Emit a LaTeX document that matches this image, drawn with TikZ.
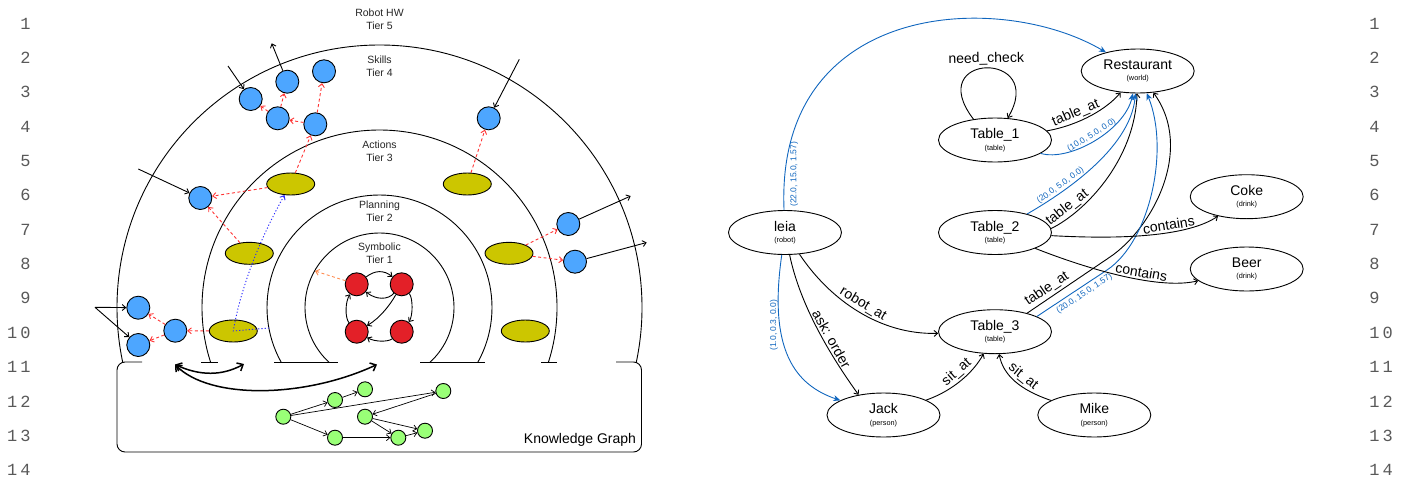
\documentclass[tikz,border=0pt]{standalone}
\usepackage{fontspec}
\setmainfont{Liberation Sans}
\newfontfamily\linefont[LetterSpace=18]{Liberation Mono}
\usetikzlibrary{shapes.geometric, arrows.meta}

\definecolor{skillblue}{RGB}{77,166,255}
\definecolor{actionolive}{RGB}{204,198,0}
\definecolor{symred}{RGB}{227,32,40}
\definecolor{kbgreen}{RGB}{153,255,119}
\definecolor{flowred}{RGB}{255,51,51}
\definecolor{flowpeach}{RGB}{255,140,80}
\definecolor{planblue}{RGB}{40,40,255}
\definecolor{poseblue}{RGB}{16,102,190}

\newcommand{\ent}[2]{#1\\[-4.4pt]{\fontsize{7.3}{8}\selectfont(#2)}}

\tikzstyle{skill} = [circle, draw=black, fill=skillblue, minimum size=23pt, inner sep=0pt]
\tikzstyle{action} = [ellipse, draw=black, fill=actionolive, minimum width=48pt,
    minimum height=22pt, inner sep=0pt]
\tikzstyle{symnode} = [circle, draw=black, fill=symred, minimum size=23pt, inner sep=0pt]
\tikzstyle{fact} = [circle, draw=black, fill=kbgreen, minimum size=15pt, inner sep=0pt]
\tikzstyle{entity} = [ellipse, draw=black, minimum width=113pt, minimum height=44pt,
    inner sep=0pt, align=center, font=\fontsize{14}{16}\selectfont]
\tikzstyle{tier} = [align=center, font=\fontsize{10.5}{13}\selectfont, text=black!85]
\tikzstyle{lineno} = [inner sep=0pt, font=\linefont\fontsize{17}{17}\selectfont, text=black!65]
\tikzstyle{arrow} = [->, >={Straight Barb[length=3.5pt,width=6pt]}]
\tikzstyle{flow} = [arrow, draw=flowred, dash pattern=on 3pt off 2.5pt]
\tikzstyle{planpath} = [arrow, draw=planblue, dash pattern=on 1.2pt off 2pt]
\tikzstyle{kglink} = [line width=1.5pt, <->, >={Straight Barb[length=5pt,width=9pt]}]
\tikzstyle{rel} = [arrow]
\tikzstyle{pose} = [draw=poseblue, -{Stealth[length=7pt,width=6pt]}]
\tikzstyle{rellabel} = [font=\fontsize{14}{16}\selectfont, inner sep=2pt, sloped]
\tikzstyle{poselabel} = [font=\fontsize{8.5}{10}\selectfont, text=poseblue, inner sep=1.5pt]

\begin{document}
\begin{tikzpicture}[x=1pt, y=-1pt, line width=0.9pt]
    \useasboundingbox (0,0) rectangle (1408,485);

    % Line numbers
    \foreach \i in {1,...,14} {
        \node[lineno, anchor=east] (lnl\i) at (31, {23.5+(\i-1)*34.35}) {\i};
        \node[lineno, anchor=west] (lnr\i) at (1369, {23.5+(\i-1)*34.35}) {\i};
    }

    % Tiers
    \begin{scope}
        \clip (0,0) rectangle (700,362);
        \foreach \r in {74.5,112.5,177.5,262.5}
            \draw (379.5,307.5) circle[radius=\r];
    \end{scope}
    \node[tier] (hw) at (379.5,19.5) {Robot HW\\Tier 5};
    \node[tier] (skills) at (379.5,66.5) {Skills\\Tier 4};
    \node[tier] (actions) at (379.5,151.5) {Actions\\Tier 3};
    \node[tier] (planning) at (379.5,211.5) {Planning\\Tier 2};
    \node[tier] (symbolic) at (379.5,253.5) {Symbolic\\Tier 1};

    % Knowledge graph box
    \draw[rounded corners=8pt] (142,362) -- (117,362) -- (117,452) -- (641.5,452)
        -- (641.5,362) -- (616,362);
    \foreach \a/\b in {201/218, 274/338, 420/485, 541/557}
        \draw (\a,362) -- (\b,362);
    \node[font=\fontsize{14}{16}\selectfont] (kglabel) at (580,440) {Knowledge Graph};

    % Skills
    \node[skill] (sk1) at (250.7,99) {};
    \node[skill] (sk2) at (287.3,81.7) {};
    \node[skill] (sk3) at (324,71.3) {};
    \node[skill] (sk4) at (277.7,118.3) {};
    \node[skill] (sk5) at (315.3,124.3) {};
    \node[skill] (sk6) at (200.3,198) {};
    \node[skill] (sk7) at (488.7,118.3) {};
    \node[skill] (sk8) at (568.3,224) {};
    \node[skill] (sk9) at (575,261.7) {};
    \node[skill] (sk10) at (138.3,307.7) {};
    \node[skill] (sk11) at (138.3,345) {};
    \node[skill] (sk12) at (175.3,330.7) {};

    % Actions
    \node[action] (ac1) at (290.7,184) {};
    \node[action] (ac2) at (467.3,184) {};
    \node[action] (ac3) at (249.3,253.3) {};
    \node[action] (ac4) at (233.3,331) {};
    \node[action] (ac5) at (509,253.3) {};
    \node[action] (ac6) at (525.3,331) {};

    % Symbols
    \node[symnode] (sy1) at (356.7,284.3) {};
    \node[symnode] (sy2) at (401.7,284.3) {};
    \node[symnode] (sy3) at (356.7,331.7) {};
    \node[symnode] (sy4) at (401.7,331.7) {};

    % Facts
    \node[fact] (kg1) at (283.3,416.7) {};
    \node[fact] (kg2) at (335,400) {};
    \node[fact] (kg3) at (365,389.3) {};
    \node[fact] (kg4) at (443.3,391) {};
    \node[fact] (kg5) at (365,416.7) {};
    \node[fact] (kg6) at (335,437.7) {};
    \node[fact] (kg7) at (398.3,437.7) {};
    \node[fact] (kg8) at (425,430.7) {};

    % Free ends
    \coordinate (in1) at (228,66);
    \coordinate (out1) at (271.7,43.3);
    \coordinate (in2) at (138.3,169);
    \coordinate (in3) at (519.3,59.3);
    \coordinate (out2) at (630.7,196);
    \coordinate (out3) at (646.7,242.5);
    \coordinate (in4) at (95,307.3);
    \coordinate (symhit) at (315,271);
    \coordinate (planhit) at (269,328);
    \coordinate (kgl) at (175,364.5);
    \coordinate (kgm) at (244,364);
    \coordinate (kgr) at (377,364.5);

    % Arrows
    \foreach \a/\b in {sk4/sk1, sk4/sk2, sk5/sk4, sk5/sk3, ac1/sk5, ac1/sk6, ac3/sk6,
        ac2/sk7, ac5/sk8, ac5/sk9, ac4/sk12, sk12/sk10, sk12/sk11}
        \draw[flow] (\a) -- (\b);
    \draw[flow, draw=flowpeach] (sy1) -- (symhit);
    \draw[planpath] (planhit) -- (ac4.center) .. controls (241,285) and (262,235) .. (ac1);

    \draw[arrow] (in1) -- (sk1);
    \draw[arrow] (sk2) -- (out1);
    \draw[arrow] (in2) -- (sk6);
    \draw[arrow] (in3) -- (sk7);
    \draw[arrow] (sk8) -- (out2);
    \draw[arrow] (sk9) -- (out3);
    \draw[arrow] (in4) -- (sk10);
    \draw[arrow] (in4) -- (sk11);

    \draw[arrow] (sy1) .. controls (375,270) and (384,270) .. (sy2);
    \draw[arrow] (sy2) .. controls (388,300) and (376,300) .. (sy1);
    \draw[arrow] (sy3) .. controls (345,318) and (345,302) .. (sy1);
    \draw[arrow] (sy2) .. controls (413,298) and (413,316) .. (sy4);
    \draw[arrow] (sy2) .. controls (390,305) and (380,318) .. (sy3);
    \draw[arrow] (sy4) .. controls (388,342) and (375,342) .. (sy3);

    \foreach \a/\b in {kg1/kg2, kg2/kg3, kg1/kg4, kg4/kg5, kg1/kg6, kg6/kg7, kg5/kg7,
        kg5/kg8, kg7/kg8}
        \draw[arrow, line width=0.7pt] (\a) -- (\b);

    \draw[kglink] (kgl) .. controls (200,376) and (222,376) .. (kgm);
    \draw[kglink] (kgl) .. controls (210,400) and (305,398) .. (kgr);

    % Scene graph
    \node[entity] (restaurant) at (1137.7,71) {\ent{Restaurant}{world}};
    \node[entity] (table1) at (995,140) {\ent{Table\_1}{table}};
    \node[entity] (leia) at (785,232.5) {\ent{leia}{robot}};
    \node[entity] (table2) at (995,232.5) {\ent{Table\_2}{table}};
    \node[entity] (coke) at (1246.7,196.7) {\ent{Coke}{drink}};
    \node[entity] (beer) at (1246.7,269) {\ent{Beer}{drink}};
    \node[entity] (table3) at (995,331.7) {\ent{Table\_3}{table}};
    \node[entity] (jack) at (883.5,415) {\ent{Jack}{person}};
    \node[entity] (mike) at (1094.3,415) {\ent{Mike}{person}};

    \draw[rel] (table1.136) .. controls (922,52) and (1048,50) ..
        node[rellabel, above, pos=0.5] (lneed) {need\_check} (table1.60);
    \draw[rel] (table1) .. controls (1080,125) and (1108,108) ..
        node[rellabel, above, pos=0.35] (lt1) {table\_at} (restaurant);
    \draw[pose] (table1) .. controls (1070,162) and (1125,130) ..
        node[poselabel, sloped, above, pos=0.5] (lp1) {(10.0, 5.0, 0.0)} (restaurant);
    \draw[rel] (table2.4) .. controls (1085,212) and (1135,160) ..
        node[rellabel, above, pos=0.2] (lt2) {table\_at} (restaurant);
    \draw[pose] (table2) .. controls (1060,195) and (1130,150) ..
        node[poselabel, sloped, above, pos=0.3] (lp2) {(20.0, 5.0, 0.0)} (restaurant);
    \draw[rel] (table3.30) -- node[rellabel, above, pos=0.3] (lt3) {table\_at} (1110,257)
        .. controls (1151.7,228.8) and (1195,150) .. (restaurant);
    \draw[pose] (table3.20) -- node[poselabel, sloped, below, inner sep=3pt, pos=0.62] (lp3) {(20.0, 15.0, 1.57)} (1107,270)
        .. controls (1149.6,241.8) and (1170,150) .. (restaurant);
    \draw[rel] (table2) .. controls (1130,240) and (1190,235) ..
        node[rellabel, above, pos=0.6] (lc1) {contains} (coke);
    \draw[rel] (table2) .. controls (1090,270) and (1160,290) ..
        node[rellabel, above, pos=0.6] (lc2) {contains} (beer);
    \draw[pose] (leia) .. controls (775,0) and (1000,-10) ..
        node[poselabel, rotate=90, below, inner sep=5pt, pos=0.06] (lp4) {(22.0, 15.0, 1.57)} (restaurant);
    \draw[pose] (leia) .. controls (768,350) and (795,385) ..
        node[poselabel, rotate=90, above, pos=0.3] (lp5) {(1.0, 0.3, 0.0)} (jack);
    \draw[rel] (leia) .. controls (830,300) and (880,335) ..
        node[rellabel, above, pos=0.5] (lr) {robot\_at} (table3);
    \draw[rel] (leia) .. controls (800,305) and (830,355) ..
        node[rellabel, above, pos=0.6] (la) {ask: order} (jack.141);
    \draw[rel] (jack) .. controls (955,390) and (975,370) ..
        node[rellabel, above, pos=0.5] (ls1) {sit\_at} (table3);
    \draw[rel] (mike) .. controls (1020,390) and (1003,375) ..
        node[rellabel, above, pos=0.45] (ls2) {sit\_at} (table3);
\end{tikzpicture}
\end{document}
